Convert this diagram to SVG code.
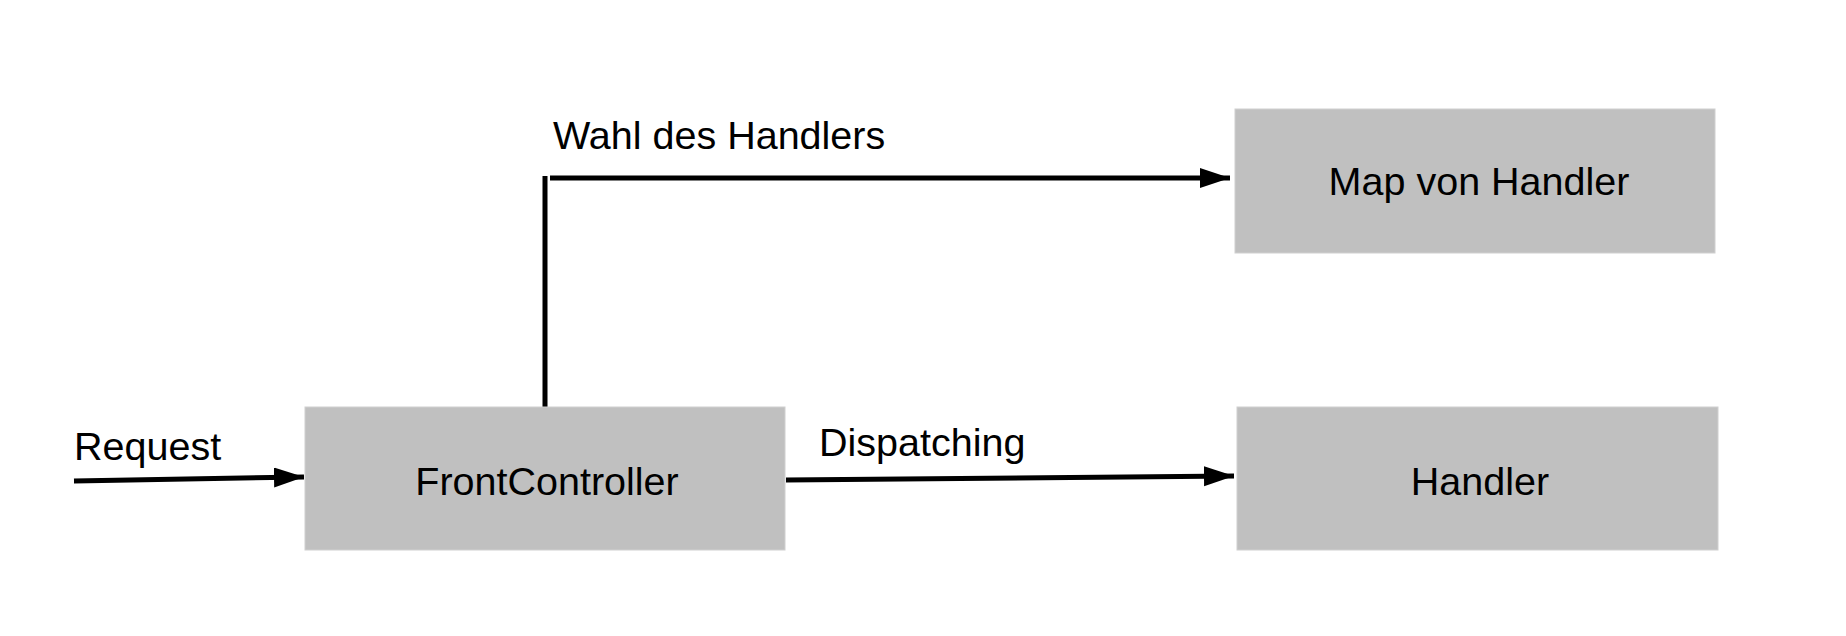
<svg xmlns="http://www.w3.org/2000/svg" width="1846" height="636" viewBox="0 0 1846 636">
<style>
.box{fill:#c0c0c0;stroke:#d0d0d0;stroke-width:1}
.t{font-family:"Liberation Sans",Arial,sans-serif;font-size:39.5px;fill:#000}
.c{text-anchor:middle}
.ln{stroke:#000;stroke-width:5;fill:none}
</style>
<defs>
<marker id="ah" markerUnits="userSpaceOnUse" markerWidth="32" markerHeight="22" refX="30" refY="10" orient="auto">
<path d="M0,0 L30,10 L0,20 Z" fill="#000"/>
</marker>
</defs>
<rect width="1846" height="636" fill="#fff"/>
<g id="connectors">
<line class="ln" x1="545" y1="176" x2="545" y2="407"/>
<line class="ln" x1="550" y1="178" x2="1230" y2="178" marker-end="url(#ah)"/>
<line class="ln" x1="74" y1="481" x2="304" y2="477" marker-end="url(#ah)"/>
<line class="ln" x1="786" y1="480" x2="1234" y2="476" marker-end="url(#ah)"/>
<text class="t" x="74" y="460">Request</text>
<text class="t" x="553" y="149">Wahl des Handlers</text>
<text class="t" x="819" y="456">Dispatching</text>
</g>
<g id="front-controller">
<rect class="box" x="305" y="407" width="480" height="143"/>
<text class="t c" x="547" y="495">FrontController</text>
</g>
<g id="map-von-handler">
<rect class="box" x="1235" y="109" width="480" height="144"/>
<text class="t c" x="1479" y="195">Map von Handler</text>
</g>
<g id="handler">
<rect class="box" x="1237" y="407" width="481" height="143"/>
<text class="t c" x="1480" y="495">Handler</text>
</g>
</svg>
